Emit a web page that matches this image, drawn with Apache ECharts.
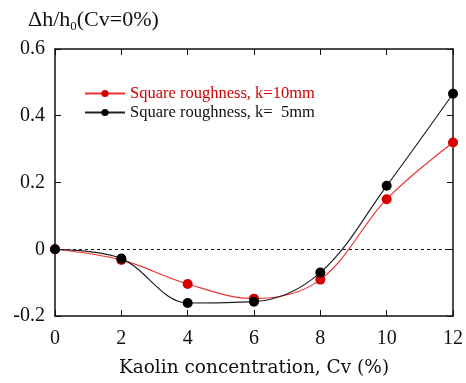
<!DOCTYPE html>
<html>
<head>
<meta charset="utf-8">
<script src="https://cdn.jsdelivr.net/npm/echarts@6/dist/echarts.min.js"></script>
<style>
html, body { margin: 0; padding: 0; background: #fff; }
#main { width: 466px; height: 383px; }
</style>
</head>
<body>
<div id="main"></div>
<script>
var cv = [0, 2, 4, 6, 8, 10, 12];
var k10 = [0, -0.032, -0.104, -0.148, -0.091, 0.15, 0.32];
var k5 = [0, -0.028, -0.161, -0.157, -0.07, 0.19, 0.466];
var names = ['Square roughness, k=10mm', 'Square roughness, k=  5mm'];

function pairs(ys) {
    return cv.map(function (x, i) { return [x, ys[i]]; });
}

var font = '"Liberation Serif", "Times New Roman", serif';
var wide = '"DejaVu Serif", serif';
var frame = { onZero: false, lineStyle: { color: '#111', width: 1.5 } };
var tick = { inside: true, length: 6, lineStyle: { color: '#111' } };

var myChart = echarts.init(document.getElementById('main'));
var option = {
    animation: false,
    textStyle: { fontFamily: font },
    grid: { left: 55, right: 11, top: 49, bottom: 63 },
    title: {
        text: 'Δh/h{s|0}(Cv=0%)',
        left: 23, top: 3,
        textStyle: {
            fontFamily: font, fontSize: 22, fontWeight: 'normal', color: '#111',
            rich: { s: { fontFamily: font, fontSize: 13, color: '#111', verticalAlign: 'bottom', padding: [12, 0, 0, 0] } }
        }
    },
    legend: {
        orient: 'vertical',
        left: 79, top: 80,
        itemWidth: 40, itemHeight: 9, itemGap: 2,
        textStyle: { fontFamily: font, fontSize: 16.5 },
        data: [
            { name: names[0], textStyle: { color: '#d40000' } },
            { name: names[1], textStyle: { color: '#111' } }
        ]
    },
    xAxis: [{
        type: 'value', min: 0, max: 12, interval: 2,
        name: 'Kaolin concentration, Cv (%)',
        nameLocation: 'middle', nameGap: 43,
        nameTextStyle: { fontFamily: wide, fontSize: 18.5, color: '#111' },
        axisLine: frame,
        axisTick: tick,
        axisLabel: { fontFamily: font, fontSize: 20, color: '#111', margin: 13 },
        splitLine: { show: false }
    }, {
        type: 'value', min: 0, max: 12, interval: 2, position: 'top',
        axisLine: frame,
        axisTick: tick,
        axisLabel: { show: false },
        splitLine: { show: false }
    }],
    yAxis: [{
        type: 'value', min: -0.2, max: 0.6, interval: 0.2,
        axisLine: Object.assign({ show: true }, frame),
        axisTick: Object.assign({ show: true }, tick),
        axisLabel: { fontFamily: font, fontSize: 20, color: '#111', margin: 10 },
        splitLine: { show: false }
    }, {
        type: 'value', min: -0.2, max: 0.6, interval: 0.2, position: 'right',
        axisLine: Object.assign({ show: true }, frame),
        axisTick: Object.assign({ show: true }, tick),
        axisLabel: { show: false },
        splitLine: { show: false }
    }],
    series: [{
        name: names[0],
        type: 'line',
        smooth: 0.35,
        data: pairs(k10),
        symbol: 'circle', symbolSize: 10,
        itemStyle: { color: '#d40000' },
        lineStyle: { color: '#e33', width: 1.2 },
        z: 3,
        markLine: {
            silent: true, symbol: 'none', label: { show: false },
            lineStyle: { color: '#111', type: [3, 3], width: 1 },
            data: [{ yAxis: 0 }]
        }
    }, {
        name: names[1],
        type: 'line',
        smooth: 0.35,
        data: pairs(k5),
        symbol: 'circle', symbolSize: 10,
        itemStyle: { color: '#000' },
        lineStyle: { color: '#222', width: 1.2 },
        z: 4
    }]
};
myChart.setOption(option);
</script>
</body>
</html>
